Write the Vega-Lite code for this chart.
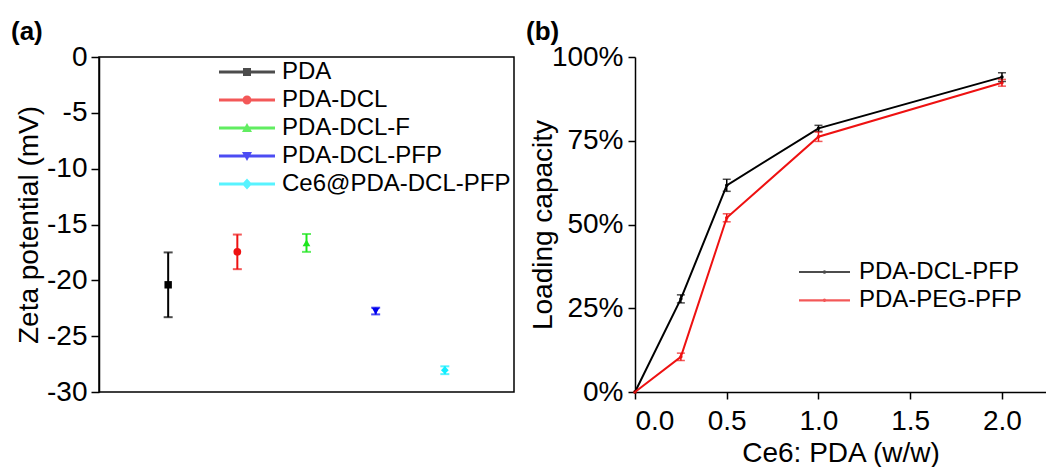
{
  "$schema": "https://vega.github.io/schema/vega-lite/v6.json",
  "padding": {"left": 10, "top": 18, "right": 0, "bottom": 0},
  "background": "white",
  "config": {
    "font": "Liberation Sans",
    "axis": {
      "grid": false,
      "domainColor": "black",
      "domainWidth": 1.5,
      "tickColor": "black",
      "tickWidth": 1.5,
      "labelColor": "black",
      "labelFontSize": 28,
      "labelFont": "Liberation Sans",
      "titleColor": "black",
      "titleFontSize": 28,
      "titleFont": "Liberation Sans",
      "titleFontWeight": "normal"
    },
    "legend": {"labelFont": "Liberation Sans"}
  },
  "datasets": {
    "zeta": [
      {"sample": "PDA", "zeta": -20.4, "err": 2.9},
      {"sample": "PDA-DCL", "zeta": -17.45, "err": 1.55},
      {"sample": "PDA-DCL-F", "zeta": -16.65, "err": 0.8},
      {"sample": "PDA-DCL-PFP", "zeta": -22.75, "err": 0.3},
      {"sample": "Ce6@PDA-DCL-PFP", "zeta": -28.05, "err": 0.35}
    ],
    "loading": [
      {"series": "PDA-DCL-PFP", "ratio": 0, "lc": 0, "err": 0},
      {"series": "PDA-DCL-PFP", "ratio": 0.25, "lc": 27.8, "err": 1.2},
      {"series": "PDA-DCL-PFP", "ratio": 0.5, "lc": 61.7, "err": 1.8},
      {"series": "PDA-DCL-PFP", "ratio": 1, "lc": 78.7, "err": 0.9},
      {"series": "PDA-DCL-PFP", "ratio": 2, "lc": 94.0, "err": 1.3},
      {"series": "PDA-PEG-PFP", "ratio": 0, "lc": 0, "err": 0},
      {"series": "PDA-PEG-PFP", "ratio": 0.25, "lc": 10.5, "err": 1.1},
      {"series": "PDA-PEG-PFP", "ratio": 0.5, "lc": 52.0, "err": 1.2},
      {"series": "PDA-PEG-PFP", "ratio": 1, "lc": 76.2, "err": 1.4},
      {"series": "PDA-PEG-PFP", "ratio": 2, "lc": 92.3, "err": 1.0}
    ]
  },
  "spacing": 121,
  "bounds": "flush",
  "resolve": {
    "scale": {"color": "independent", "shape": "independent", "x": "independent", "y": "independent"},
    "legend": {"color": "independent", "shape": "independent"}
  },
  "hconcat": [
    {
      "width": 415,
      "height": 335,
      "view": {"stroke": "black", "strokeWidth": 1.5},
      "title": {"text": "(a)", "anchor": "start", "frame": "group", "dx": -88, "fontSize": 26, "fontWeight": "bold", "baseline": "alphabetic", "offset": -23, "font": "Liberation Sans", "color": "black"},
      "data": {"name": "zeta"},
      "encoding": {
        "x": {
          "field": "sample", "type": "nominal",
          "sort": ["PDA", "PDA-DCL", "PDA-DCL-F", "PDA-DCL-PFP", "Ce6@PDA-DCL-PFP"],
          "scale": {"type": "point", "padding": 1},
          "axis": null
        },
        "y": {
          "field": "zeta", "type": "quantitative",
          "scale": {"domain": [-30, 0], "nice": false},
          "axis": {
            "values": [-30, -25, -20, -15, -10, -5, 0],
            "labelExpr": "datum.value == 0 ? '0' : '-' + abs(datum.value)",
            "title": "Zeta potential (mV)",
            "tickSize": 8,
            "labelPadding": 4,
            "titleX": -62,
            "titleBaseline": "alphabetic"
          }
        }
      },
      "layer": [
        {
          "mark": {"type": "point", "filled": true, "size": 60, "opacity": 0},
          "encoding": {
            "shape": {
              "field": "sample", "type": "nominal",
              "scale": {
                "domain": ["PDA", "PDA-DCL", "PDA-DCL-F", "PDA-DCL-PFP", "Ce6@PDA-DCL-PFP"],
                "range": [
                  "M-4.6,-0.15H1V0.15H-4.6Z M-2.2,-0.4H-1.4V0.4H-2.2Z",
                  "M-4.6,-0.15H1V0.15H-4.6Z M-2.25,0A0.45,0.45 0 1,1 -1.35,0A0.45,0.45 0 1,1 -2.25,0Z",
                  "M-4.6,-0.15H1V0.15H-4.6Z M-1.8,-0.5L-1.3,0.4H-2.3Z",
                  "M-4.6,-0.15H1V0.15H-4.6Z M-1.8,0.5L-2.3,-0.4H-1.3Z",
                  "M-4.6,-0.15H1V0.15H-4.6Z M-1.8,-0.55L-1.3,0L-1.8,0.55L-2.3,0Z"
                ]
              },
              "legend": null
            },
            "color": {
              "field": "sample", "type": "nominal",
              "scale": {"domain": ["PDA", "PDA-DCL", "PDA-DCL-F", "PDA-DCL-PFP", "Ce6@PDA-DCL-PFP"], "range": ["#000000", "#ee1111", "#1ee61e", "#0000ee", "#11eeff"]},
              "legend": {
                "orient": "none",
                "legendX": 154,
                "legendY": 3,
                "title": null,
                "padding": 0,
                "labelFontSize": 24,
                "labelColor": "black",
                "labelOffset": 5,
                "labelLimit": 400,
                "rowPadding": 4,
                "symbolSize": 400,
                "symbolStrokeWidth": 0,
                "symbolOpacity": 1
              }
            }
          }
        },
        {
          "mark": {"type": "errorbar", "ticks": true, "size": 9, "thickness": 2},
          "encoding": {
            "yError": {"field": "err"},
            "color": {"field": "sample", "type": "nominal"}
          }
        },
        {
          "transform": [{"filter": "datum.sample === 'PDA'"}],
          "mark": {"type": "point", "filled": true, "size": 55, "opacity": 1, "shape": "square", "color": "#000000"}
        },
        {
          "transform": [{"filter": "datum.sample === 'PDA-DCL'"}],
          "mark": {"type": "point", "filled": true, "size": 60, "opacity": 1, "shape": "circle", "color": "#ee1111"}
        },
        {
          "transform": [{"filter": "datum.sample === 'PDA-DCL-F'"}],
          "mark": {"type": "point", "filled": true, "size": 60, "opacity": 1, "shape": "triangle-up", "color": "#1ee61e"}
        },
        {
          "transform": [{"filter": "datum.sample === 'PDA-DCL-PFP'"}],
          "mark": {"type": "point", "filled": true, "size": 60, "opacity": 1, "shape": "triangle-down", "color": "#0000ee"}
        },
        {
          "transform": [{"filter": "datum.sample === 'Ce6@PDA-DCL-PFP'"}],
          "mark": {"type": "point", "filled": true, "size": 60, "opacity": 1, "shape": "diamond", "color": "#11eeff"}
        }
      ]
    },
    {
      "width": 411,
      "height": 335,
      "view": {"stroke": null},
      "title": {"text": "(b)", "anchor": "start", "frame": "group", "dx": -109, "fontSize": 26, "fontWeight": "bold", "baseline": "alphabetic", "offset": -23, "font": "Liberation Sans", "color": "black"},
      "data": {"name": "loading"},
      "encoding": {
        "x": {
          "field": "ratio", "type": "quantitative",
          "scale": {"domain": [0, 2.24], "nice": false},
          "axis": {
            "values": [0, 0.5, 1, 1.5, 2],
            "format": ".1f",
            "title": "Ce6: PDA (w/w)",
            "tickSize": 7,
            "labelPadding": 8,
            "titleY": 69,
            "titleBaseline": "alphabetic"
          }
        },
        "y": {
          "field": "lc", "type": "quantitative",
          "scale": {"domain": [0, 100], "nice": false},
          "axis": {
            "values": [0, 25, 50, 75, 100],
            "labelExpr": "datum.value + '%'",
            "title": "Loading capacity",
            "tickSize": 7,
            "labelPadding": 5,
            "titleX": -84,
            "titleBaseline": "alphabetic"
          }
        }
      },
      "layer": [
        {
          "mark": {"type": "point", "filled": true, "size": 12, "opacity": 1},
          "encoding": {
            "color": {
              "field": "series", "type": "nominal",
              "scale": {"domain": ["PDA-DCL-PFP", "PDA-PEG-PFP"], "range": ["#000000", "#ee1111"]},
              "legend": {
                "orient": "none",
                "legendX": 193,
                "legendY": 203,
                "title": null,
                "padding": 0,
                "labelFontSize": 24,
                "labelColor": "black",
                "labelOffset": 7,
                "labelLimit": 400,
                "rowPadding": 4.3,
                "symbolSize": 400,
                "symbolStrokeWidth": 0,
                "symbolOpacity": 1,
                "symbolType": "M-4.1,-0.11H1V0.11H-4.1Z M-1.73,0A0.18,0.18 0 1,1 -1.37,0A0.18,0.18 0 1,1 -1.73,0Z"
              }
            }
          }
        },
        {
          "mark": {"type": "line", "strokeWidth": 2},
          "encoding": {
            "color": {"field": "series", "type": "nominal"}
          }
        },
        {
          "transform": [{"filter": "datum.err > 0"}],
          "mark": {"type": "errorbar", "ticks": true, "size": 8, "thickness": 1.5},
          "encoding": {
            "yError": {"field": "err"},
            "color": {"field": "series", "type": "nominal"}
          }
        }
      ]
    }
  ]
}
